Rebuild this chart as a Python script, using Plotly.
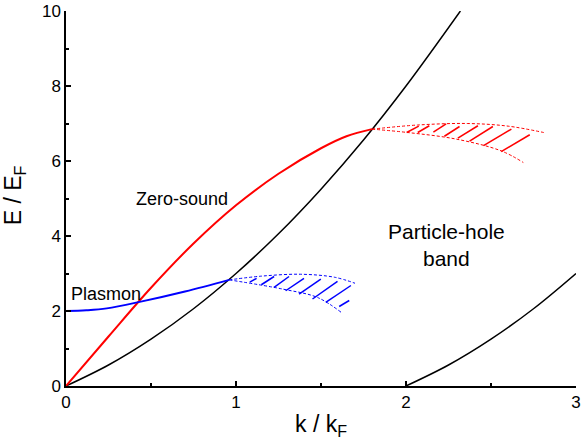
import plotly.graph_objects as go

# particle-hole band edges
upper_k = [0, 0.25, 0.5, 0.75, 1.0, 1.25, 1.5, 1.75, 2.0, 2.32]
upper_e = [0, 0.56, 1.25, 2.06, 3.0, 4.06, 5.25, 6.56, 8.0, 10.0]
lower_k = [2.0, 2.25, 2.5, 2.75, 3.0]
lower_e = [0, 0.56, 1.25, 2.06, 3.0]

# collective modes
zs_k = [0, 0.25, 0.5, 0.75, 1.0, 1.25, 1.5, 1.65, 1.80]
zs_e = [0, 1.32, 2.62, 3.80, 4.82, 5.66, 6.34, 6.66, 6.85]
pl_k = [0, 0.12, 0.24, 0.44, 0.7, 0.96]
pl_e = [2.0, 2.02, 2.07, 2.25, 2.52, 2.83]

# damped continuation (dashed edges)
zs_up_k = [1.80, 2.07, 2.36, 2.6, 2.81]
zs_up_e = [6.85, 6.96, 7.0, 6.93, 6.76]
zs_lo_k = [1.80, 2.01, 2.30, 2.56, 2.69]
zs_lo_e = [6.85, 6.76, 6.58, 6.27, 5.96]
pl_up_k = [0.96, 1.15, 1.38, 1.58, 1.70]
pl_up_e = [2.83, 2.93, 2.98, 2.90, 2.74]
pl_lo_k = [0.96, 1.28, 1.48, 1.62]
pl_lo_e = [2.83, 2.58, 2.36, 1.96]

# hatch strokes: (k0, e0, k1, e1)
zs_hatch = [
    (2.004, 6.76, 2.075, 6.93),
    (2.069, 6.76, 2.137, 6.94),
    (2.161, 6.77, 2.236, 6.99),
    (2.226, 6.66, 2.315, 6.92),
    (2.305, 6.61, 2.423, 6.94),
    (2.374, 6.53, 2.511, 6.92),
    (2.456, 6.41, 2.620, 6.85),
    (2.560, 6.25, 2.728, 6.70),
]
pl_hatch = [
    (1.081, 2.77, 1.121, 2.87),
    (1.149, 2.70, 1.224, 2.92),
    (1.224, 2.63, 1.312, 2.92),
    (1.292, 2.54, 1.400, 2.87),
    (1.371, 2.45, 1.499, 2.85),
    (1.450, 2.32, 1.597, 2.79),
    (1.528, 2.23, 1.676, 2.68),
    (1.607, 2.12, 1.666, 2.28),
]


def strokes(segs):
    xs, ys = [], []
    for k0, e0, k1, e1 in segs:
        xs += [k0, k1, None]
        ys += [e0, e1, None]
    return xs, ys


RED = "#ff0000"
BLUE = "#0000ff"

fig = go.Figure()


def line(x, y, color, width, dash="solid", shape="spline"):
    fig.add_trace(go.Scatter(x=x, y=y, mode="lines", showlegend=False,
                             line=dict(color=color, width=width, dash=dash, shape=shape)))


line(upper_k, upper_e, "black", 1.5)
line(lower_k, lower_e, "black", 1.5)
line(zs_up_k, zs_up_e, RED, 1, "3px,2px")
line(zs_lo_k, zs_lo_e, RED, 1, "3px,2px")
line(pl_up_k, pl_up_e, BLUE, 1, "3px,2px")
line(pl_lo_k, pl_lo_e, BLUE, 1, "3px,2px")
hx, hy = strokes(zs_hatch)
line(hx, hy, RED, 1.5, shape="linear")
hx, hy = strokes(pl_hatch)
line(hx, hy, BLUE, 1.5, shape="linear")
line(zs_k, zs_e, RED, 2)
line(pl_k, pl_e, BLUE, 2)

font = dict(family="Liberation Sans, Arial, sans-serif", color="black")
notes = [
    (0.68, 4.98, "Zero-sound", 18, "center"),
    (0.02, 2.46, "Plasmon", 18, "left"),
    (2.236, 3.76, "Particle-hole<br>band", 21, "center"),
]
for x, y, txt, size, anchor in notes:
    fig.add_annotation(x=x, y=y, text=txt, showarrow=False, xref="x", yref="y",
                       xanchor=anchor, font=dict(size=size, **font))

fig.add_annotation(x=0.5, y=-0.105, xref="paper", yref="paper", showarrow=False,
                   yanchor="middle", text="k / k<sub>F</sub>", font=dict(size=23, **font))
fig.add_annotation(x=-0.101, y=0.51, xref="paper", yref="paper", showarrow=False,
                   xanchor="center", text="E / E<sub>F</sub>", textangle=-90,
                   font=dict(size=23, **font))

axis_common = dict(showgrid=False, zeroline=False, showline=True, linecolor="black",
                   linewidth=1.5, ticks="inside", ticklen=5, tickwidth=1.5,
                   tickcolor="black", automargin=False, tickfont=dict(size=17, **font))
fig.update_xaxes(range=[0, 3], tickvals=[0, 1, 2, 3],
                 minor=dict(tickvals=[0.5, 1.5, 2.5], ticks="inside", ticklen=3,
                            tickwidth=1.5, tickcolor="black"),
                 **axis_common)
fig.update_yaxes(range=[0, 10], tickvals=[0, 2, 4, 6, 8, 10],
                 minor=dict(tickvals=[1, 3, 5, 7, 9], ticks="inside", ticklen=3,
                            tickwidth=1.5, tickcolor="black"),
                 **axis_common)

fig.update_layout(width=581, height=440, margin=dict(l=66, r=5, t=11, b=54),
                  plot_bgcolor="white", paper_bgcolor="white", showlegend=False)

# page body has a default 8px margin; drop it so the figure sits at the corner
fig.write_html("out.html", config={"displayModeBar": False},
               post_script="document.body.style.margin='0';")
